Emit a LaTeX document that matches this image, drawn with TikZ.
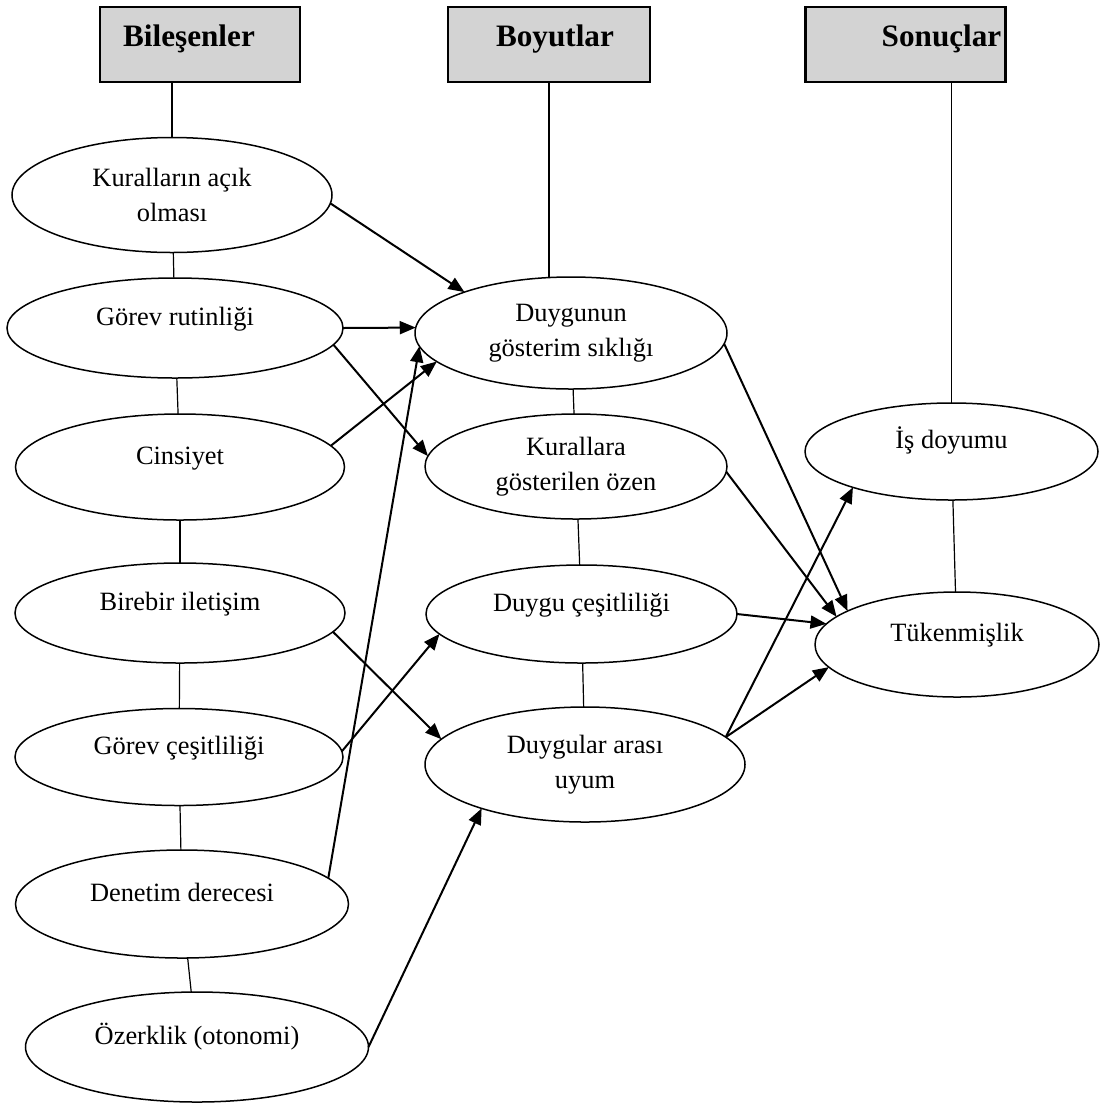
\documentclass[tikz,border=0pt]{standalone}
\usepackage{fontspec}
\setmainfont{Liberation Serif}
\usepackage{tikz}
\usetikzlibrary{shapes.geometric, arrows.meta, positioning}
\definecolor{headgray}{RGB}{211,211,211}
\tikzset{
  header/.style={
    rectangle,
    draw=black,
    line width=1.1pt,
    fill=headgray,
    minimum width=100pt,
    minimum height=37.5pt,
    inner sep=0pt,
    outer sep=0pt
  },
  headtext/.style={
    inner sep=0pt,
    text height=11pt,
    text depth=9pt,
    font=\fontsize{15.6}{18}\selectfont\bfseries
  },
  factor/.style={
    ellipse,
    draw=black,
    line width=0.75pt,
    inner sep=0pt,
    outer sep=0pt,
    align=center,
    font=\fontsize{13.2}{17.5}\selectfont
  },
  oneline/.style={
    text height=9.5pt,
    text depth=12.5pt
  },
  link/.style={
    line width=0.6pt
  },
  arrow/.style={
    line width=1pt,
    -{Triangle[length=8pt, width=6.5pt]}
  }
}

\begin{document}
\begin{tikzpicture}[x=0.5pt, y=-0.5pt]
  \useasboundingbox (0,0) rectangle (1106,1104);

  % --- HEADERS ---
  \node (B_title) [header, label={[headtext, xshift=-5.5pt]center:Bileşenler}] at (200,44.5) {};
  \node (D_title) [header, minimum width=101pt, label={[headtext, xshift=3pt]center:Boyutlar}] at (549,44.5) {};
  \node (S_title) [header, label={[headtext, xshift=18pt]center:Sonuçlar}] at (905.5,44.5) {};

  % --- LEFT SIDE: BILESENLER ---
  \node (B1) [factor, minimum width=160pt, minimum height=57.5pt] at (172,195) {Kuralların açık\\olması};
  \node (B2) [factor, oneline, minimum width=168pt, minimum height=50pt] at (175,328) {Görev rutinliği};
  \node (B3) [factor, oneline, minimum width=164.5pt, minimum height=53pt] at (180,467) {Cinsiyet};
  \node (B4) [factor, oneline, minimum width=165pt, minimum height=50pt] at (180,613) {Birebir iletişim};
  \node (B5) [factor, oneline, minimum width=164pt, minimum height=48.5pt] at (179,757) {Görev çeşitliliği};
  \node (B6) [factor, oneline, minimum width=166.5pt, minimum height=54pt] at (182,904) {Denetim derecesi};
  \node (B7) [factor, oneline, minimum width=171.5pt, minimum height=55pt] at (197,1047) {Özerklik (otonomi)};

  \draw[link] (B1.north |- B_title.south) -- (B1.north);
  \draw[link] (B1) -- (B2);
  \draw[link] (B2) -- (B3);
  \draw[link] (B3) -- (B4);
  \draw[link] (B4) -- (B5);
  \draw[link] (B5) -- (B6);
  \draw[link] (B6) -- (B7);

  % --- MIDDLE: BOYUTLAR ---
  \node (D1) [factor, minimum width=156pt, minimum height=56pt] at (571,333) {Duygunun\\gösterim sıklığı};
  \node (D2) [factor, minimum width=151pt, minimum height=52.5pt] at (576,466.5) {Kurallara\\gösterilen özen};
  \node (D3) [factor, oneline, minimum width=155.5pt, minimum height=49pt] at (581.5,614) {Duygu çeşitliliği};
  \node (D4) [factor, minimum width=160pt, minimum height=57.5pt] at (585,764.5) {Duygular arası\\uyum};

  \draw[link] (D_title.south) -- (D_title.south |- D1.north);
  \draw[link] (D1) -- (D2);
  \draw[link] (D2) -- (D3);
  \draw[link] (D3) -- (D4);

  % --- RIGHT SIDE: SONUCLAR ---
  \node (S1) [factor, oneline, minimum width=146.5pt, minimum height=48.5pt] at (951.5,451.5) {İş doyumu};
  \node (S2) [factor, oneline, minimum width=142pt, minimum height=52.5pt] at (957,644.5) {Tükenmişlik};

  \draw[link] (S1.north |- S_title.south) -- (S1.north);
  \draw[link] (S1) -- (S2);

  % Arrows
  \draw[arrow] (B1.-3) -- (D1.159);
  \draw[arrow] (B2.east) -- (D1.178);
  \draw[arrow] (B2.-6) -- (D2.176);
  \draw[arrow] (B3.8) -- (D1.192);
  \draw[arrow] (B4.-7.5) -- (D4.170);
  \draw[arrow] (B5.2) -- (D3.188);
  \draw[arrow] (B6.10) -- (D1.185);
  \draw[arrow] (B7.east) -- (D4.203);

  \draw[arrow] (D1.-4) -- (S2.163);
  \draw[arrow] (D2.-2.5) -- (S2.167);
  \draw[arrow] (D3.east) -- (S2.171);
  \draw[arrow] (D4.11) -- (S1.200);
  \draw[arrow] (D4.11) -- (S2.190);

\end{tikzpicture}
\end{document}
